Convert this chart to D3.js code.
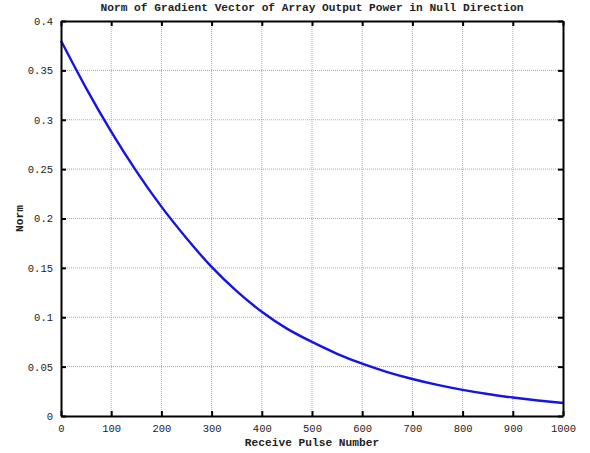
<!DOCTYPE html>
<html>
<head>
<meta charset="utf-8">
<script src="https://cdn.jsdelivr.net/npm/d3@7"></script>
<style>
  body { margin: 0; background: #fff; }
  svg { display: block; }
  text { font-family: "Liberation Mono", "Courier New", monospace; fill: #222; }
</style>
</head>
<body>
<svg id="chart" width="590" height="453"></svg>
<script>
// pulse numbers and norm values
const pulses = [0, 50, 100, 150, 200, 250, 300, 350, 400, 450, 500,
                550, 600, 650, 700, 750, 800, 850, 900, 950, 1000];
const norms = [0.380, 0.332, 0.288, 0.248, 0.212, 0.180, 0.151, 0.1265, 0.1055, 0.0885, 0.075,
               0.063, 0.053, 0.0445, 0.0375, 0.0315, 0.0265, 0.0223, 0.0187, 0.0157, 0.0132];
const xTicks = [0, 100, 200, 300, 400, 500, 600, 700, 800, 900, 1000];
const yTicks = [0, 0.05, 0.1, 0.15, 0.2, 0.25, 0.3, 0.35, 0.4];

const margin = { top: 21, right: 27, bottom: 37, left: 61 };
const width = 590 - margin.left - margin.right;
const height = 453 - margin.top - margin.bottom;

const svg = d3.select('#chart');
const g = svg.append('g').attr('transform', `translate(${margin.left},${margin.top})`);

const x = d3.scaleLinear().domain([0, 1000]).range([0, width]);
const y = d3.scaleLinear().domain([0, 0.4]).range([height, 0]);

// grid
g.append('g')
  .selectAll('line')
  .data(xTicks.slice(1, -1))
  .join('line')
  .attr('x1', d => x(d)).attr('x2', d => x(d))
  .attr('y1', 0).attr('y2', height)
  .attr('stroke', '#aaa').attr('stroke-width', 1).attr('stroke-dasharray', '1,1');

g.append('g')
  .selectAll('line')
  .data(yTicks.slice(1, -1))
  .join('line')
  .attr('y1', d => y(d)).attr('y2', d => y(d))
  .attr('x1', 0).attr('x2', width)
  .attr('stroke', '#aaa').attr('stroke-width', 1).attr('stroke-dasharray', '1,1');

// curve
let line = d3.line()
  .x((d, i) => x(pulses[i]))
  .y(d => y(d))
  .curve(d3.curveNatural);

g.append('path')
  .datum(norms)
  .attr('d', line)
  .attr('fill', 'none')
  .attr('stroke', '#1414e6')
  .attr('stroke-width', 2.4);

// axes (ticks inward on all four sides)
const fmt = d => String(+d.toFixed(2));

const xAxis = g.append('g')
  .attr('transform', `translate(0,${height})`)
  .call(d3.axisBottom(x).tickValues(xTicks).tickSizeInner(-5).tickSizeOuter(0).tickPadding(9).tickFormat(d3.format('d')));
const xTop = g.append('g')
  .call(d3.axisTop(x).tickValues(xTicks).tickSizeInner(-5).tickSizeOuter(0).tickFormat(''));
const yAxis = g.append('g')
  .call(d3.axisLeft(y).tickValues(yTicks).tickSizeInner(-5).tickSizeOuter(0).tickPadding(8).tickFormat(fmt));
const yRight = g.append('g')
  .attr('transform', `translate(${width},0)`)
  .call(d3.axisRight(y).tickValues(yTicks).tickSizeInner(-5).tickSizeOuter(0).tickFormat(''));

[xAxis, xTop, yAxis, yRight].forEach(a => {
  a.select('.domain').attr('stroke', '#000').attr('stroke-width', 2);
  a.selectAll('.tick line').attr('stroke', '#000').attr('stroke-width', 2);
  a.selectAll('.tick text')
    .attr('font-family', '"Liberation Mono", "Courier New", monospace')
    .attr('font-size', 10.5)
    .attr('fill', '#222');
});

// labels
svg.append('text')
  .attr('x', margin.left + width / 2).attr('y', 11)
  .attr('text-anchor', 'middle')
  .attr('font-size', 11.2).attr('font-weight', 'bold')
  .text('Norm of Gradient Vector of Array Output Power in Null Direction');

svg.append('text')
  .attr('x', margin.left + width / 2).attr('y', 446)
  .attr('text-anchor', 'middle')
  .attr('font-size', 11.2).attr('font-weight', 'bold')
  .text('Receive Pulse Number');

svg.append('text')
  .attr('transform', `translate(23,${margin.top + height / 2}) rotate(-90)`)
  .attr('text-anchor', 'middle')
  .attr('font-size', 11.2).attr('font-weight', 'bold')
  .text('Norm');
</script>
</body>
</html>
